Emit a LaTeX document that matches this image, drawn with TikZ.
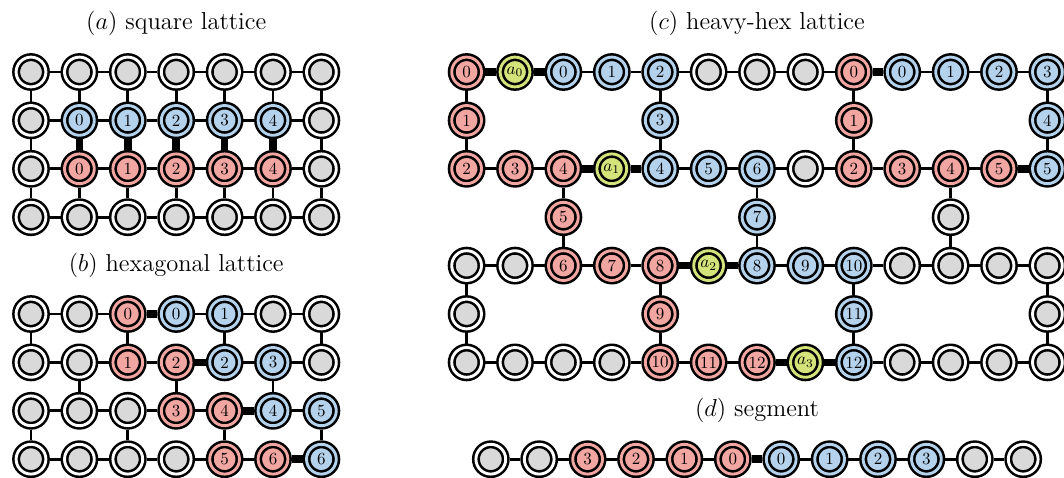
\documentclass[tikz,border=0pt]{standalone}
\usetikzlibrary{calc}
\definecolor{mygray}{HTML}{D9D9D9}
\definecolor{myblue}{HTML}{B4D2EC}
\definecolor{myred}{HTML}{F2A6A2}
\definecolor{mygreen}{HTML}{D4E37A}
\tikzset{
  qubit/.style={draw, circle, minimum size=0.615cm, inner sep=0pt, outer sep=2.35pt,
    line width=1.5pt, double distance=1.7pt},
  idle/.style={qubit, fill=mygray, double=white},
  redq/.style={qubit, fill=myred, double=myred},
  blueq/.style={qubit, fill=myblue, double=myblue},
  greenq/.style={qubit, fill=mygreen, double=mygreen},
  link/.style={line width=1.6pt},
  bond/.style={line width=4.5pt},
  title/.style={font=\Large}
}

\begin{document}
\begin{tikzpicture}
      \useasboundingbox (-0.6405, 1.4876) rectangle (21.343, -8.368);

      % (a) square lattice
      \node [title, name=atitle] at (3, 1) {$(a)$ square lattice};
      \foreach \c in {0,...,6} {
        \node [idle, name=a-0-\c] at (\c, 0) {};
        \node [idle, name=a-3-\c] at (\c, -3) {};
      }
      \foreach \c in {0,6} {
        \node [idle, name=a-1-\c] at (\c, -1) {};
        \node [idle, name=a-2-\c] at (\c, -2) {};
      }
      \foreach \c [count=\n from 0] in {1,...,5} {
        \node [blueq, name=a-1-\c] at (\c, -1) {\n};
        \node [redq, name=a-2-\c] at (\c, -2) {\n};
      }
      \foreach \r in {0,...,3}
        \foreach \c [count=\d] in {0,...,5}
          \draw [link] (a-\r-\c) -- (a-\r-\d);
      \foreach \c in {0,...,6} {
        \draw [link] (a-0-\c) -- (a-1-\c);
        \draw [link] (a-2-\c) -- (a-3-\c);
      }
      \draw [link] (a-1-0) -- (a-2-0);
      \draw [link] (a-1-6) -- (a-2-6);
      \foreach \c in {1,...,5}
        \draw [bond] (a-1-\c) -- (a-2-\c);

      % (b) hexagonal lattice
      \node [title, name=btitle] at (3, -4) {$(b)$ hexagonal lattice};
      \foreach \c/\s/\t in {0/idle/, 1/idle/, 2/redq/0, 3/blueq/0, 4/blueq/1, 5/idle/, 6/idle/}
        \node [\s, name=b-0-\c] at (\c, -5) {\t};
      \foreach \c/\s/\t in {0/idle/, 1/idle/, 2/redq/1, 3/redq/2, 4/blueq/2, 5/blueq/3, 6/idle/}
        \node [\s, name=b-1-\c] at (\c, -6) {\t};
      \foreach \c/\s/\t in {0/idle/, 1/idle/, 2/idle/, 3/redq/3, 4/redq/4, 5/blueq/4, 6/blueq/5}
        \node [\s, name=b-2-\c] at (\c, -7) {\t};
      \foreach \c/\s/\t in {0/idle/, 1/idle/, 2/idle/, 3/idle/, 4/redq/5, 5/redq/6, 6/blueq/6}
        \node [\s, name=b-3-\c] at (\c, -8) {\t};
      \foreach \r in {0,...,3}
        \foreach \c [count=\d] in {0,...,5}
          \draw [link] (b-\r-\c) -- (b-\r-\d);
      \foreach \c in {0,2,4,6} {
        \draw [link] (b-0-\c) -- (b-1-\c);
        \draw [link] (b-2-\c) -- (b-3-\c);
      }
      \foreach \c in {1,3,5}
        \draw [link] (b-1-\c) -- (b-2-\c);
      \draw [bond] (b-0-2) -- (b-0-3);
      \draw [bond] (b-1-3) -- (b-1-4);
      \draw [bond] (b-2-4) -- (b-2-5);
      \draw [bond] (b-3-5) -- (b-3-6);

      % (c) heavy-hex lattice
      \node [title, name=ctitle] at (15, 1) {$(c)$ heavy-hex lattice};
      \foreach \c/\s/\t in {0/redq/0, 1/greenq/$a_0$, 2/blueq/0, 3/blueq/1, 4/blueq/2, 5/idle/,
          6/idle/, 7/idle/, 8/redq/0, 9/blueq/0, 10/blueq/1, 11/blueq/2, 12/blueq/3}
        \node [\s, name=c-0-\c] at (9+\c, 0) {\t};
      \foreach \c/\s/\t in {0/redq/1, 4/blueq/3, 8/redq/1, 12/blueq/4}
        \node [\s, name=c-1-\c] at (9+\c, -1) {\t};
      \foreach \c/\s/\t in {0/redq/2, 1/redq/3, 2/redq/4, 3/greenq/$a_1$, 4/blueq/4, 5/blueq/5,
          6/blueq/6, 7/idle/, 8/redq/2, 9/redq/3, 10/redq/4, 11/redq/5, 12/blueq/5}
        \node [\s, name=c-2-\c] at (9+\c, -2) {\t};
      \foreach \c/\s/\t in {2/redq/5, 6/blueq/7, 10/idle/}
        \node [\s, name=c-3-\c] at (9+\c, -3) {\t};
      \foreach \c/\s/\t in {0/idle/, 1/idle/, 2/redq/6, 3/redq/7, 4/redq/8, 5/greenq/$a_2$,
          6/blueq/8, 7/blueq/9, 8/blueq/10, 9/idle/, 10/idle/, 11/idle/, 12/idle/}
        \node [\s, name=c-4-\c] at (9+\c, -4) {\t};
      \foreach \c/\s/\t in {0/idle/, 4/redq/9, 8/blueq/11, 12/idle/}
        \node [\s, name=c-5-\c] at (9+\c, -5) {\t};
      \foreach \c/\s/\t in {0/idle/, 1/idle/, 2/idle/, 3/idle/, 4/redq/10, 5/redq/11,
          6/redq/12, 7/greenq/$a_3$, 8/blueq/12, 9/idle/, 10/idle/, 11/idle/, 12/idle/}
        \node [\s, name=c-6-\c] at (9+\c, -6) {\t};
      \foreach \r in {0,2,4,6}
        \foreach \c [count=\d] in {0,...,11}
          \draw [link] (c-\r-\c) -- (c-\r-\d);
      \foreach \c in {0,4,8,12} {
        \draw [link] (c-0-\c) -- (c-1-\c) -- (c-2-\c);
        \draw [link] (c-4-\c) -- (c-5-\c) -- (c-6-\c);
      }
      \foreach \c in {2,6,10}
        \draw [link] (c-2-\c) -- (c-3-\c) -- (c-4-\c);
      \foreach \r/\c/\d in {0/0/1, 0/1/2, 0/8/9, 2/2/3, 2/3/4, 2/11/12, 4/4/5, 4/5/6, 6/6/7, 6/7/8}
        \draw [bond] (c-\r-\c) -- (c-\r-\d);

      % (d) segment
      \node [title, name=dtitle] at (15, -7) {$(d)$ segment};
      \foreach \c/\s/\t in {0/idle/, 1/idle/, 2/redq/3, 3/redq/2, 4/redq/1, 5/redq/0,
          6/blueq/0, 7/blueq/1, 8/blueq/2, 9/blueq/3, 10/idle/, 11/idle/}
        \node [\s, name=d-\c] at (9.5+\c, -8) {\t};
      \foreach \c [count=\d] in {0,...,10}
        \draw [link] (d-\c) -- (d-\d);
      \draw [bond] (d-5) -- (d-6);
\end{tikzpicture}
\end{document}
